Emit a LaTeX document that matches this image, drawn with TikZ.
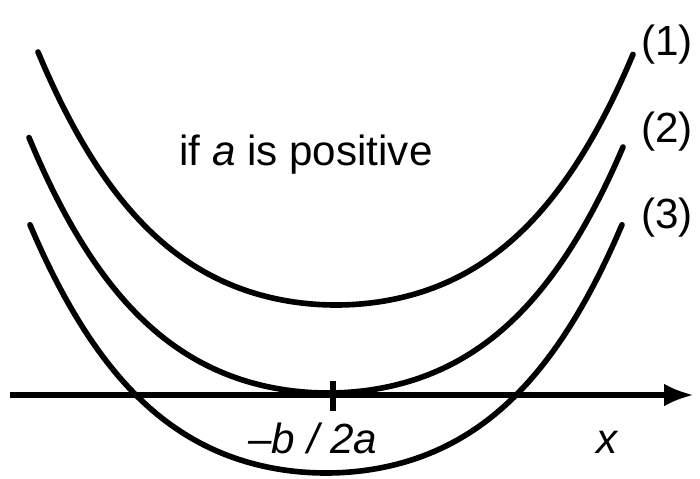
\documentclass[tikz,border=0pt]{standalone}
\usepackage{fontspec}
\setmainfont{Liberation Sans}
\usetikzlibrary{arrows.meta, positioning}

\begin{document}
\begin{tikzpicture}[x=0.02cm, y=0.02cm,
        declare function={bowl(\t)=16.86*(\t/100)^2+1.31*(\t/100)^4;},
        curve/.style={line width=3.2pt, line cap=round},
        arr/.style={-{Latex[length=17pt, width=13pt]}, line width=3.2pt},
        lab/.style={font=\fontsize{24}{28}\selectfont, inner sep=0pt}
      ]
      \useasboundingbox (0,0) rectangle (700,478);

      % the three curves, same shape shifted
      \draw[curve] plot[domain=38:633, samples=80, smooth]
        (\x, {173+bowl(\x-336)});
      \draw[curve] plot[domain=29:623, samples=80, smooth]
        (\x, {85+bowl(\x-328)});
      \draw[curve] plot[domain=30:622, samples=80, smooth]
        (\x, {5+bowl(\x-326)});

      % axis
      \coordinate (xl)  at (10,83);
      \coordinate (xr)  at (694,83);
      \coordinate (vtx) at (333,83);
      \draw[arr] (xl) -- (xr);
      \draw[line width=3.2pt] ([yshift=8] vtx) -- ([yshift=-9] vtx);

      \node[lab] (pos) at (306,323) {if \textit{a} is positive};
      \node[lab] (one)   at (667,433) {(1)};
      \node[lab] (two)   at (667,346) {(2)};
      \node[lab] (three) at (667,260) {(3)};
      \node[lab] (mid) at (313,40) {\textit{--b / 2a}};
      \node[lab] (xlab) at (608,36) {\textit{x}};
    \end{tikzpicture}
\end{document}
